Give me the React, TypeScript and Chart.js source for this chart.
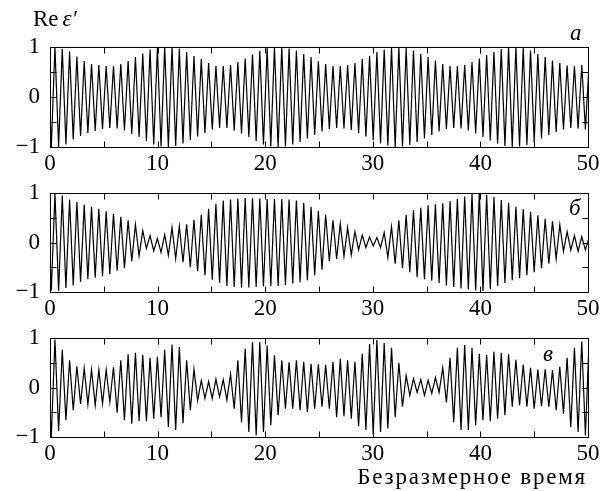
import React, { useEffect, useRef } from "react";
import { Chart, registerables } from "chart.js";

Chart.register(...registerables);

// ---------- data ----------
const xTickLabels = [0, 10, 20, 30, 40, 50];
const xFrameTicks = [5, 10, 15, 20, 25, 30, 35, 40, 45];
const yTickLabels = [1, 0, -1];
const yFrameTicks = [0.5, 0, -0.5];
const xMin = 0;
const xMax = 50;
const firstPeakTime = -0.22; // time of the first upper extremum
const halfPeriod = 0.34; // time between successive extrema

const panelLetters = ["а", "б", "в"];
const yAxisTitle = "Re";
const yAxisSymbol = "ε′";
const xAxisTitle = "Безразмерное время";

// Panel а: upper and lower extrema
const panelATops = [
  0.98, 1.0, 0.96, 0.91, 0.81, 0.72, 0.66, 0.64, 0.62, 0.62,
  0.66, 0.72, 0.8, 0.87, 0.95, 0.98, 1.0, 1.0, 0.97, 0.9,
  0.82, 0.76, 0.68, 0.62, 0.62, 0.64, 0.7, 0.77, 0.85, 0.92,
  0.98, 1.0, 1.0, 0.97, 0.93, 0.86, 0.8, 0.72, 0.66, 0.62,
  0.62, 0.64, 0.68, 0.76, 0.82, 0.9, 0.95, 0.99, 1.0, 0.98,
  0.93, 0.86, 0.8, 0.73, 0.66, 0.62, 0.62, 0.64, 0.7, 0.77,
  0.84, 0.9, 0.96, 1.0, 1.0, 0.98, 0.93, 0.86, 0.8, 0.73,
  0.68, 0.63, 0.62, 0.64, 0.66,
];
const panelABottoms = [
  -1.0, -1.0, -0.95, -0.85, -0.78, -0.72, -0.68, -0.64, -0.62, -0.63,
  -0.67, -0.74, -0.8, -0.88, -0.95, -0.99, -1.0, -0.98, -0.93, -0.86,
  -0.79, -0.72, -0.65, -0.62, -0.62, -0.67, -0.73, -0.8, -0.88, -0.95,
  -0.99, -1.0, -0.99, -0.95, -0.9, -0.83, -0.76, -0.69, -0.64, -0.62,
  -0.63, -0.66, -0.72, -0.79, -0.86, -0.93, -0.97, -1.0, -0.99, -0.96,
  -0.9, -0.83, -0.76, -0.69, -0.64, -0.62, -0.63, -0.67, -0.73, -0.8,
  -0.87, -0.93, -0.98, -1.0, -0.99, -0.96, -0.9, -0.83, -0.76, -0.7,
  -0.65, -0.62, -0.63, -0.65,
];

// Panel б
const panelBTops = [
  0.9, 0.99, 0.95, 0.87, 0.82, 0.76, 0.72, 0.68, 0.63, 0.58,
  0.52, 0.45, 0.36, 0.24, 0.14, 0.08, 0.16, 0.3, 0.33, 0.37,
  0.46, 0.56, 0.68, 0.78, 0.85, 0.87, 0.89, 0.9, 0.9, 0.89,
  0.88, 0.88, 0.88, 0.87, 0.85, 0.8, 0.72, 0.64, 0.56, 0.45,
  0.38, 0.3, 0.22, 0.15, 0.11, 0.1, 0.2, 0.32, 0.45, 0.56,
  0.65, 0.7, 0.75, 0.77, 0.79, 0.84, 0.88, 0.93, 0.98, 1.0,
  0.96, 0.92, 0.86, 0.8, 0.72, 0.67, 0.62, 0.55, 0.48, 0.43,
  0.36, 0.22, 0.14, 0.12, 0.1,
];
const panelBBottoms = [
  -0.97, -0.98, -0.92, -0.87, -0.79, -0.74, -0.71, -0.68, -0.64, -0.57,
  -0.52, -0.38, -0.27, -0.12, -0.17, -0.2, -0.26, -0.33, -0.4, -0.5,
  -0.58, -0.66, -0.75, -0.82, -0.88, -0.9, -0.91, -0.91, -0.9, -0.89,
  -0.88, -0.88, -0.86, -0.83, -0.8, -0.76, -0.66, -0.55, -0.38, -0.33,
  -0.28, -0.25, -0.15, -0.1, -0.07, -0.1, -0.3, -0.43, -0.52, -0.6,
  -0.7, -0.74, -0.77, -0.82, -0.87, -0.9, -0.93, -0.95, -0.97, -0.98,
  -0.94, -0.88, -0.82, -0.76, -0.72, -0.66, -0.6, -0.52, -0.43, -0.33,
  -0.18, -0.15, -0.18, -0.15,
];

// Panel в
const panelCTops = [
  0.5, 0.97, 0.76, 0.55, 0.43, 0.39, 0.36, 0.36, 0.36, 0.41,
  0.55, 0.67, 0.7, 0.66, 0.6, 0.62, 0.76, 0.87, 0.82, 0.55,
  0.37, 0.14, 0.12, 0.17, 0.16, 0.27, 0.55, 0.78, 0.92, 0.92,
  0.85, 0.65, 0.55, 0.51, 0.55, 0.52, 0.48, 0.47, 0.46, 0.52,
  0.58, 0.55, 0.52, 0.68, 0.88, 0.96, 0.9, 0.8, 0.5, 0.24,
  0.18, 0.16, 0.15, 0.2, 0.4, 0.6, 0.8, 0.86, 0.8, 0.68,
  0.66, 0.72, 0.7, 0.67, 0.56, 0.46, 0.4, 0.36, 0.37, 0.35,
  0.42, 0.6, 0.8, 0.93, 0.95,
];
const panelCBottoms = [
  -1.0, -0.88, -0.66, -0.46, -0.33, -0.34, -0.36, -0.33, -0.29, -0.51,
  -0.66, -0.73, -0.68, -0.68, -0.63, -0.6, -0.8, -0.86, -0.72, -0.46,
  -0.26, -0.22, -0.22, -0.19, -0.25, -0.43, -0.7, -0.9, -0.97, -0.9,
  -0.76, -0.56, -0.43, -0.43, -0.46, -0.5, -0.43, -0.39, -0.43, -0.6,
  -0.58, -0.63, -0.78, -0.86, -0.95, -0.9, -0.83, -0.6, -0.39, -0.16,
  -0.1, -0.16, -0.12, -0.1, -0.3, -0.7, -0.86, -0.86, -0.76, -0.66,
  -0.68, -0.63, -0.56, -0.39, -0.36, -0.39, -0.43, -0.38, -0.39, -0.46,
  -0.53, -0.8, -0.9, -0.97,
];

// ---------- layout & style ----------
const W = 612;
const H = 491;
const PLOT_LEFT = 50;
const PLOT_RIGHT = 588;
const Y_AXIS_W = 40;
const X_AXIS_H = 34;
const TICK_LEN = 6;
const FONT = "'Liberation Serif', 'DejaVu Serif', serif";
const FONT_SIZE = 23;
const panelBoxes = [
  { top: 47, bottom: 147 },
  { top: 193, bottom: 292 },
  { top: 338, bottom: 437 },
];

function buildSeries(tops: number[], bottoms: number[]) {
  const pts: { x: number; y: number }[] = [];
  const n = Math.max(tops.length, bottoms.length);
  for (let i = 0; i < n; i++) {
    if (i < tops.length) pts.push({ x: firstPeakTime + 2 * i * halfPeriod, y: tops[i] });
    if (i < bottoms.length) pts.push({ x: firstPeakTime + (2 * i + 1) * halfPeriod, y: bottoms[i] });
  }
  return pts;
}

const framePlugin = {
  id: "frame",
  afterDatasetsDraw(chart: any) {
    const { ctx, chartArea: a, scales } = chart;
    const x = scales.x;
    const y = scales.y;
    ctx.save();
    ctx.strokeStyle = "#000";
    ctx.lineWidth = 1;
    const l = Math.round(a.left) + 0.5;
    const r = Math.round(a.right) + 0.5;
    const t = Math.round(a.top) + 0.5;
    const b = Math.round(a.bottom) + 0.5;
    ctx.strokeRect(l, t, r - l, b - t);
    ctx.beginPath();
    for (const v of xFrameTicks) {
      const px = Math.round(x.getPixelForValue(v)) + 0.5;
      ctx.moveTo(px, t);
      ctx.lineTo(px, t + TICK_LEN);
      ctx.moveTo(px, b);
      ctx.lineTo(px, b - TICK_LEN);
    }
    for (const v of yFrameTicks) {
      const py = Math.round(y.getPixelForValue(v)) + 0.5;
      ctx.moveTo(l, py);
      ctx.lineTo(l + TICK_LEN, py);
      ctx.moveTo(r, py);
      ctx.lineTo(r - TICK_LEN, py);
    }
    ctx.stroke();
    ctx.restore();
  },
};

function Panel({ tops, bottoms, box }: { tops: number[]; bottoms: number[]; box: { top: number; bottom: number } }) {
  const ref = useRef<HTMLCanvasElement | null>(null);
  useEffect(() => {
    if (!ref.current) return;
    const chart = new Chart(ref.current, {
      type: "line",
      data: {
        datasets: [
          {
            data: buildSeries(tops, bottoms),
            borderColor: "#000",
            borderWidth: 1.2,
            pointRadius: 0,
            tension: 0,
            fill: false,
            clip: 0,
          } as any,
        ],
      },
      options: {
        responsive: false,
        animation: false,
        devicePixelRatio: 1,
        layout: {
          padding: {
            left: PLOT_LEFT - Y_AXIS_W,
            right: W - PLOT_RIGHT,
            top: box.top,
            bottom: H - box.bottom - X_AXIS_H,
          },
        },
        plugins: { legend: { display: false }, tooltip: { enabled: false }, title: { display: false } },
        scales: {
          x: {
            type: "linear",
            min: xMin,
            max: xMax,
            grid: { display: false, drawTicks: false },
            border: { display: false },
            afterBuildTicks: (s: any) => {
              s.ticks = xTickLabels.map((v) => ({ value: v }));
            },
            afterFit: (s: any) => {
              s.height = X_AXIS_H;
            },
            ticks: {
              autoSkip: false,
              maxRotation: 0,
              padding: 3,
              color: "#000",
              font: { family: FONT, size: FONT_SIZE },
              callback: (v: any) => String(v),
            },
          },
          y: {
            type: "linear",
            min: -1,
            max: 1,
            grid: { display: false, drawTicks: false },
            border: { display: false },
            afterBuildTicks: (s: any) => {
              s.ticks = yTickLabels.map((v) => ({ value: v }));
            },
            afterFit: (s: any) => {
              s.width = Y_AXIS_W;
            },
            ticks: {
              padding: 10,
              color: "#000",
              font: { family: FONT, size: FONT_SIZE },
              callback: (v: any) => (Number(v) < 0 ? "\u2212" + Math.abs(Number(v)) : String(v)),
            },
          },
        },
      } as any,
      plugins: [framePlugin],
    });
    return () => chart.destroy();
  }, [tops, bottoms, box]);
  return (
    <canvas
      ref={ref}
      width={W}
      height={H}
      style={{ position: "absolute", left: 0, top: 0, width: W, height: H }}
    />
  );
}

const textBase: React.CSSProperties = {
  position: "absolute",
  fontFamily: FONT,
  fontSize: FONT_SIZE,
  lineHeight: `${FONT_SIZE}px`,
  color: "#000",
  whiteSpace: "nowrap",
  margin: 0,
};

export default function App() {
  const panels = [
    { tops: panelATops, bottoms: panelABottoms },
    { tops: panelBTops, bottoms: panelBBottoms },
    { tops: panelCTops, bottoms: panelCBottoms },
  ];
  const letterPos = [
    { left: 570, top: 21 },
    { left: 569, top: 196 },
    { left: 543, top: 342 },
  ];
  return (
    <div style={{ position: "absolute", left: 0, top: 0, width: W, height: H, background: "#fff" }}>
      {panels.map((p, i) => (
        <Panel key={i} tops={p.tops} bottoms={p.bottoms} box={panelBoxes[i]} />
      ))}
      <div style={{ ...textBase, left: 33, top: 7 }}>
        {yAxisTitle}
        <span style={{ fontStyle: "italic", marginLeft: 4 }}>{yAxisSymbol}</span>
      </div>
      {panelLetters.map((l, i) => (
        <div key={l} style={{ ...textBase, fontStyle: "italic", left: letterPos[i].left, top: letterPos[i].top }}>
          {l}
        </div>
      ))}
      <div style={{ ...textBase, right: 25, top: 465, letterSpacing: "1.8px" }}>{xAxisTitle}</div>
    </div>
  );
}
